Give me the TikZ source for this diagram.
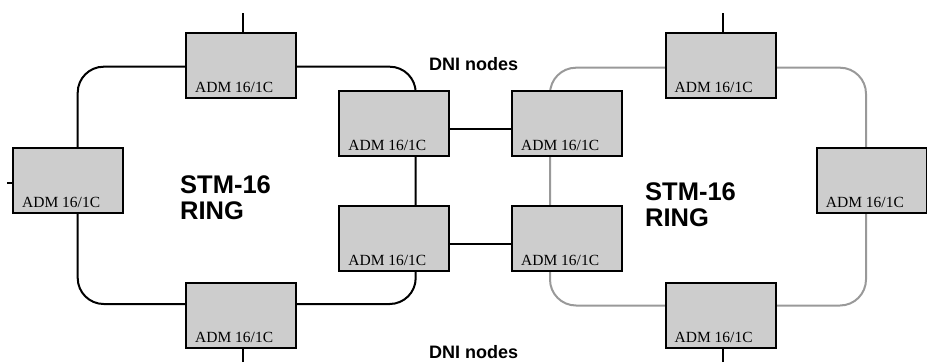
\documentclass[tikz,border=0pt]{standalone}
\usepackage{fontspec}
\setmainfont{Liberation Serif}
\setsansfont{Liberation Sans}
\definecolor{boxfill}{HTML}{CDCDCD}
\definecolor{ringgray}{HTML}{999999}
\begin{document}
\begin{tikzpicture}[x=1pt,y=-1pt,
  adm/.style={draw=black, line width=2pt, fill=boxfill, minimum width=110pt, minimum height=65pt, inner sep=0pt,
    label={[anchor=base west, inner sep=0pt, xshift=10pt, yshift=6.5pt, font=\fontsize{15.5}{16}\selectfont]south west:ADM 16/1C}},
  ringblack/.style={draw=black, line width=2pt, rounded corners=26pt},
  ringgrey/.style={draw=ringgray, line width=2pt, rounded corners=26pt},
  link/.style={draw=black, line width=1.6pt},
  stub/.style={draw=black, line width=2pt},
  big/.style={anchor=base west, inner sep=0pt, font=\sffamily\bfseries\fontsize{25.5}{26}\selectfont},
  dni/.style={anchor=base west, inner sep=0pt, font=\sffamily\bfseries\fontsize{18}{19}\selectfont}]
\useasboundingbox (0,0) rectangle (927,362);

% rings (drawn first, behind the boxes)
\coordinate (LA) at (77.7,66.7);
\coordinate (LB) at (415.7,304);
\coordinate (RA) at (550,67.7);
\coordinate (RB) at (866,305.5);
\draw[ringblack] (LA) rectangle (LB);
\draw[ringgrey] (RA) rectangle (RB);

% left ring boxes
\node[adm] (tl)  at (241,65.7) {};
\node[adm] (l)   at (68,180.9) {};
\node[adm] (bl)  at (241,315.3) {};
\node[adm] (ilt) at (394.2,123.3) {};
\node[adm] (ilb) at (394.2,238.3) {};
% right ring boxes
\node[adm] (irt) at (567,123.3) {};
\node[adm] (irb) at (567,238.3) {};
\node[adm] (tr)  at (720.5,65.7) {};
\node[adm] (r)   at (871.7,180.9) {};
\node[adm] (br)  at (720.5,315.3) {};

% stubs
\coordinate (sTL) at (242.5,13);
\coordinate (sBL) at (242.5,362);
\coordinate (sTR) at (722.5,13);
\coordinate (sBR) at (722.5,362);
\coordinate (sL) at (7,182.7);
\draw[stub] (sTL) -- (sTL |- tl.north);
\draw[stub] (sBL) -- (sBL |- bl.south);
\draw[stub] (sTR) -- (sTR |- tr.north);
\draw[stub] (sBR) -- (sBR |- br.south);
\draw[stub] (sL) -- (sL -| l.west);

% DNI links
\coordinate (h1) at (480,129);
\coordinate (h2) at (480,244);
\draw[link] (ilt.east |- h1) -- (irt.west |- h1);
\draw[link] (ilb.east |- h2) -- (irb.west |- h2);

% texts
\node[big] (stmL) at (180,193.3) {STM-16};
\node[big] (ringL) at (180,219.3) {RING};
\node[big] (stmR) at (645,200) {STM-16};
\node[big] (ringR) at (645,226) {RING};
\node[dni] (dniT) at (429,70.7) {DNI nodes};
\node[dni] (dniB) at (429,358) {DNI nodes};
\end{tikzpicture}
\end{document}
